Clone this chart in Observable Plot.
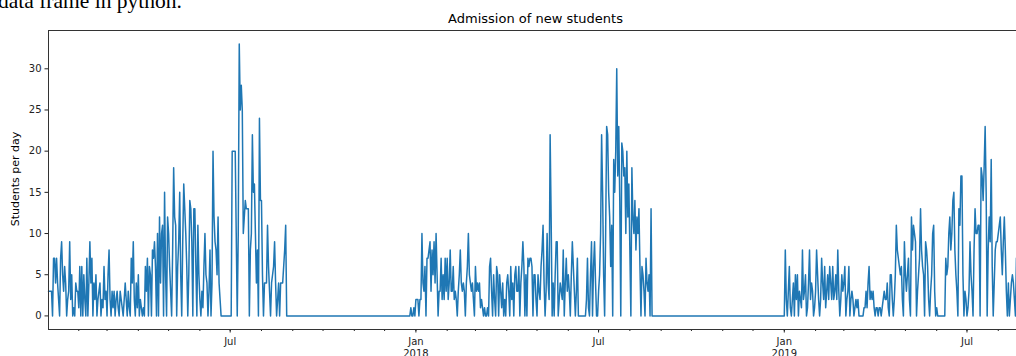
<!DOCTYPE html>
<html><head><meta charset="utf-8">
<script src="https://cdn.jsdelivr.net/npm/d3@7"></script>
<script src="https://cdn.jsdelivr.net/npm/@observablehq/plot@0.6"></script>
<style>
html,body{margin:0;padding:0;overflow:hidden;background:#fff;width:1016px;height:356px;}
#wrap{position:relative;width:1016px;height:356px;overflow:hidden;}
#chart{position:absolute;left:0;top:0;width:1030px;}
#chart svg{max-width:none !important;}
#top{position:absolute;left:-2px;top:-10px;font-family:"Liberation Serif",serif;font-size:21.5px;line-height:22px;white-space:nowrap;color:#000;}
#title{position:absolute;left:535.5px;top:12px;transform:translateX(-50%);font-family:"DejaVu Sans",sans-serif;font-size:13px;line-height:13px;white-space:nowrap;color:#000;}
#ylabel{position:absolute;left:15px;top:179px;transform:translate(-50%,-50%) rotate(-90deg);font-family:"DejaVu Sans",sans-serif;font-size:11px;line-height:11px;white-space:nowrap;color:#000;}
</style></head>
<body>
<div id="wrap">
  <div id="chart"></div>
  <div id="top">data frame in python.</div>
  <div id="title">Admission of new students</div>
  <div id="ylabel">Students per day</div>
</div>
<script>
// Daily admissions, one value per day from each season's start date
const seasonStarts = ["2017-01-02", "2017-12-26", "2019-01-01"];

const students2017 = [
  3,3,3,3,0,7,7,4,7,4, 2,0,7,9,5,3,6,4,0,2,
  3,9,2,5,0,1,0,4,3,3, 1,6,0,6,0,5,2,0,7,0,
  4,9,4,7,0,4,2,5,0,2, 3,4,0,2,1,6,2,3,0,5,
  8,2,0,3,1,3,0,2,3,1, 0,3,2,1,0,2,4,2,0,3,
  1,0,7,4,9,2,0,4,1,5, 0,2,1,0,1,0,6,3,7,0,
  6,5,0,8,7,9,6,0,10,0, 12,4,10,11,0,15,5,0,12,10,
  6,3,0,8,18,12,11,0,6,9, 15,5,0,9,16,13,10,6,0,5,
  14,13,9,0,13,13,6,0,11,5, 2,0,3,1,6,10,5,4,0,3,
  8,0,4,20,12,9,8,5,12,4, 2,0,0,0,0,0,0,0,0,0,
  0,0,20,20,20,20,10,0,10,33, 25,28,25,10,12,14,13,13,13,0,
  8,10,22,15,16,10,4,8,0,24, 14,14,5,0,4,4,4,11,6,3,
  0,4,5,6,9,4,0,2,4,0, 4,4,4,6,8,11,0
];

const students2018 = [
  0,1,0,0,1,0,
  2,2,2,0,2,2,10,4,3,6, 0,7,7,8,9,3,8,5,9,4,
  10,5,0,3,3,7,2,5,2,7, 3,7,2,4,8,3,3,6,2,3,
  2,0,3,5,8,4,3,4,3,0, 4,6,10,5,4,3,4,2,0,6,
  3,4,3,4,1,2,1,0,1,0, 0,1,0,6,7,3,0,5,2,0,
  6,5,0,5,3,1,4,0,2,0, 4,5,3,0,6,2,4,0,5,6,
  3,3,6,0,4,6,9,6,0,5, 0,7,6,7,7,6,0,5,5,2,
  0,5,3,2,6,8,11,4,0,3, 10,4,2,22,12,0,4,0,5,9,
  9,0,2,4,3,2,8,0,4,7, 3,5,3,0,5,9,6,3,0,3,
  7,0,0,0,0,0,0,0,0,2, 7,1,0,5,9,0,6,9,4,0,
  0,3,5,10,22,15,5,0,10,23, 22,15,12,6,11,0,19,15,20,30,
  17,23,14,0,21,20,17,18,10,20, 12,16,8,0,18,12,10,14,8,12,
  10,13,6,0,6,5,3,0,7,4, 3,5,0,13,0
];

const students2019 = [
  0,8,2,0,3,6,1,0,2,4, 0,5,2,5,0,3,2,1,8,2,
  3,5,0,1,4,8,2,4,3,0, 1,3,8,5,2,0,2,7,4,2,
  6,1,3,5,2,6,4,2,6,2, 3,5,2,8,3,0,2,5,3,4,
  6,0,2,3,6,0,2,3,2,0, 1,2,1,2,0,0,0,0,0,1,
  1,3,1,4,6,2,3,2,3,1, 0,1,1,0,1,1,0,1,2,3,
  2,2,4,1,0,5,5,2,0,2, 5,11,8,7,6,5,6,2,0,9,
  5,3,5,7,2,0,12,8,11,10, 9,0,3,5,7,13,8,6,5,0,
  9,8,6,2,0,3,5,10,11,3, 0,1,0,0,0,0,0,0,0,0,
  7,5,6,10,12,8,10,14,15,8, 5,3,0,13,11,17,17,5,0,3,
  2,0,1,3,9,5,3,0,8,13, 10,10,11,11,0,18,17,14,18,23,
  15,0,8,12,9,19,6,0,4,8, 9,9,10,11,12,8,5,9,12,8,
  3,0,4,0,2,4,5,4,2,0, 7,7
];

const seasons = [students2017, students2018, students2019];

const yTicks = [0, 5, 10, 15, 20, 25, 30];
const majorTicks = ["2017-07-01", "2018-01-01", "2018-07-01", "2019-01-01", "2019-07-01"];
const majorLabels = ["Jul", "Jan\n2018", "Jul", "Jan\n2019", "Jul"];
const xDomainStrings = ["2017-01-02", "2019-08-26"];
const yDomain = [-1.65, 34.65];

const DAY = 864e5;
const data = [];
seasonStarts.forEach((s, k) => {
  const t0 = new Date(s).getTime();
  seasons[k].forEach((v, i) => data.push({date: new Date(t0 + i * DAY), value: v}));
});

const xDomain = xDomainStrings.map(d => new Date(d));
const majorDates = majorTicks.map(d => new Date(d));
const labelMap = new Map(majorDates.map((d, i) => [+d, majorLabels[i]]));
const minorDates = d3.utcMonth.range(xDomain[0], xDomain[1]);

const chart = Plot.plot({
  width: 1030,
  height: 356,
  marginLeft: 48,
  marginRight: 7,
  marginTop: 30,
  marginBottom: 27,
  style: {fontFamily: "DejaVu Sans, sans-serif", fontSize: "10px", color: "#222", background: "transparent", overflow: "visible", maxWidth: "none"},
  x: {type: "utc", domain: xDomain},
  y: {domain: yDomain},
  marks: [
    Plot.axisY({ticks: yTicks, tickSize: 3.5, tickPadding: 3.5, label: null, tickFormat: d => String(d)}),
    Plot.axisX({ticks: minorDates, tickSize: 2, tickFormat: () => "", label: null}),
    Plot.axisX({ticks: majorDates, tickSize: 3.5, tickPadding: 3.5, tickFormat: d => labelMap.get(+d), label: null, lineHeight: 1.2}),
    Plot.line(data, {x: "date", y: "value", stroke: "#1f77b4", strokeWidth: 1.5}),
    Plot.frame({stroke: "#333"})
  ]
});
chart.style.maxWidth = "none";
document.getElementById("chart").appendChild(chart);
</script>
</body></html>
